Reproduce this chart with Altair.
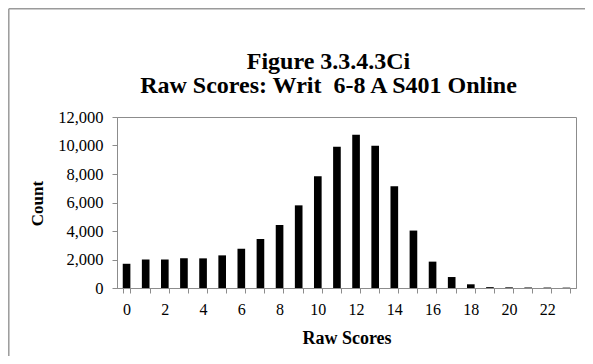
import altair as alt
import pandas as pd

scores = list(range(24))
counts = [1700, 2000, 2000, 2080, 2080, 2290, 2760, 3440, 4420, 5800, 7840, 9920,
          10760, 9990, 7140, 4030, 1850, 770, 260, 60, 45, 35, 30, 25]
title_lines = ["Figure 3.3.4.3Ci", "Raw Scores: Writ\u00a0 6-8 A S401 Online"]
y_ticks = [0, 2000, 4000, 6000, 8000, 10000, 12000]

df = pd.DataFrame({"score": scores, "count": counts})
FONT = "Liberation Serif"
GRAY = "#8c8c8c"

bars = alt.Chart(df).mark_bar(color="black").encode(
    x=alt.X("score:O",
            scale=alt.Scale(paddingInner=0.6, paddingOuter=0.3),
            axis=alt.Axis(title="Raw Scores", labelAngle=0, tickBand="extent",
                          labelExpr="datum.value % 2 == 0 ? datum.label : ''",
                          tickSize=5, labelPadding=8, labelFontSize=16, labelFont=FONT,
                          labelColor="black", titleFont=FONT, titleFontSize=18,
                          titleFontWeight="bold", titleColor="black",
                          titleBaseline="alphabetic", titleY=55,
                          domainColor=GRAY, tickColor=GRAY)),
    y=alt.Y("count:Q",
            scale=alt.Scale(domain=[0, 12000], nice=False),
            axis=alt.Axis(title="Count", values=y_ticks, format=",d", grid=False,
                          tickSize=5, labelPadding=9, labelFontSize=16.5, labelFont=FONT,
                          labelColor="black", titleFont=FONT, titleFontSize=17,
                          titleFontWeight="bold", titleColor="black",
                          titleAngle=-90, titleAlign="center", titleBaseline="middle",
                          titleX=-80, titleY=86,
                          domainColor=GRAY, tickColor=GRAY)),
)

frame_df = pd.DataFrame({"a": [0]})
frame_left = alt.Chart(frame_df).mark_rule(color="#9a9a9a", strokeWidth=1.5).encode(
    x=alt.value(-108.2), y=alt.value(-108.2), y2=alt.value(270))
frame_top = alt.Chart(frame_df).mark_rule(color="#9a9a9a", strokeWidth=1.5).encode(
    x=alt.value(-108.2), x2=alt.value(480), y=alt.value(-108.2))

chart = alt.layer(bars, frame_left, frame_top).properties(
    width=459, height=171,
    autosize=alt.AutoSizeParams(type="none"),
    padding={"left": 109, "top": 109, "right": 9, "bottom": 68},
    title=alt.TitleParams(text=title_lines, font=FONT, fontSize=24, fontWeight="bold",
                          color="black", anchor="middle", dx=-18, offset=-90,
                          lineHeight=24),
).configure_view(stroke=GRAY)

chart.save("out.html", embed_options={"renderer": "svg", "actions": False})
